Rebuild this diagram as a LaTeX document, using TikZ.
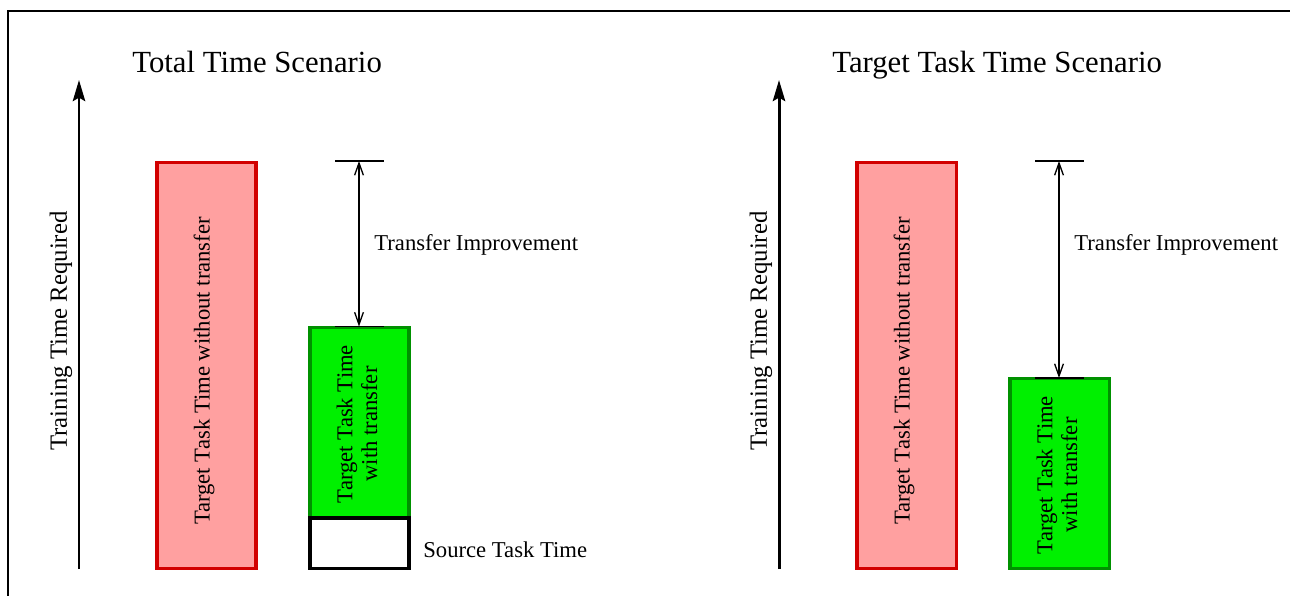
\documentclass[tikz,border=0pt]{standalone}
\usepackage{fontspec}
\setmainfont{Liberation Serif}
\usetikzlibrary{arrows.meta}

\definecolor{barred}{RGB}{255,160,160}
\definecolor{edgered}{RGB}{210,0,0}
\definecolor{bargreen}{RGB}{0,240,0}
\definecolor{edgegreen}{RGB}{0,145,0}

\tikzset{
  frameline/.style={line width=1.1pt},
  axisline/.style={line width=1.7pt,-{Stealth[length=12pt,width=7pt,inset=2pt]}},
  nobar/.style={draw=edgered,fill=barred,line width=2.0pt,inner sep=0pt,minimum width=1.99cm},
  withbar/.style={draw=edgegreen,fill=bargreen,line width=2.0pt,inner sep=0pt,minimum width=1.99cm},
  srcbar/.style={draw=black,fill=white,line width=2.0pt,inner sep=0pt,minimum width=1.99cm},
  gap/.style={line width=0.75pt,{Straight Barb[length=7pt,width=5pt]}-{Straight Barb[length=7pt,width=5pt]}},
  tick/.style={line width=0.75pt},
  titletext/.style={font=\fontsize{17.5}{20}\selectfont,inner sep=0pt},
  axistext/.style={font=\fontsize{14.1}{16}\selectfont,inner sep=0pt,rotate=90},
  labeltext/.style={font=\fontsize{12.9}{14.5}\selectfont,inner sep=0pt},
  bartext/.style={font=\fontsize{12.9}{14.2}\selectfont,inner sep=0pt,rotate=90,align=center}
}

\begin{document}
\begin{tikzpicture}[x=0.02cm,y=-0.02cm]
  \useasboundingbox (0,0) rectangle (1290,595);

  % outer frame (open to the right and bottom)
  \draw[frameline] (8,600) -- (8,11) -- (1300,11);

  % ---------- left panel: total time ----------
  \node[titletext,anchor=base west] (titleA) at (132,72) {Total Time Scenario};
  \coordinate (axA0) at (79,569);
  \coordinate (axA1) at (79,80);
  \draw[axisline] (axA0) -- (axA1);
  \node[axistext] (ylabA) at (61,331) {Training Time Required};

  \node[nobar,minimum height=8.12cm] (redA) at (206.5,365.5) {};
  \node[bartext] (redAtxt) at (204,371) {Target Task Time without transfer};

  \node[withbar,minimum height=3.81cm] (greenA) at (359.5,422.75) {};
  \node[bartext] (greenAtxt) at (357,424) {Target Task Time\\with transfer};
  \node[srcbar,minimum height=1.01cm] (srcA) at (359.5,543.25) {};
  \node[labeltext,anchor=base west] (srcAtxt) at (423,557) {Source Task Time};

  \coordinate (topA) at (359,161);
  \coordinate (botA) at (359,326.5);
  \draw[tick] ([xshift=-24*0.02cm]topA) -- ([xshift=25*0.02cm]topA);
  \draw[tick] ([xshift=-24*0.02cm]botA) -- ([xshift=25*0.02cm]botA);
  \draw[gap] (topA) -- (botA);
  \node[labeltext,anchor=base west] (gainA) at (374,250) {Transfer Improvement};

  % ---------- right panel: target task time ----------
  \node[titletext,anchor=base west] (titleB) at (832,72) {Target Task Time Scenario};
  \coordinate (axB0) at (779,569);
  \coordinate (axB1) at (779,80);
  \draw[axisline] (axB0) -- (axB1);
  \node[axistext] (ylabB) at (761,331) {Training Time Required};

  \node[nobar,minimum height=8.12cm] (redB) at (906.5,365.5) {};
  \node[bartext] (redBtxt) at (904,371) {Target Task Time without transfer};

  \node[withbar,minimum height=3.8cm] (greenB) at (1059.5,473.5) {};
  \node[bartext] (greenBtxt) at (1057,475) {Target Task Time\\with transfer};

  \coordinate (topB) at (1059,161);
  \coordinate (botB) at (1059,378);
  \draw[tick] ([xshift=-24*0.02cm]topB) -- ([xshift=25*0.02cm]topB);
  \draw[tick] ([xshift=-24*0.02cm]botB) -- ([xshift=25*0.02cm]botB);
  \draw[gap] (topB) -- (botB);
  \node[labeltext,anchor=base west] (gainB) at (1074,250) {Transfer Improvement};
\end{tikzpicture}
\end{document}
